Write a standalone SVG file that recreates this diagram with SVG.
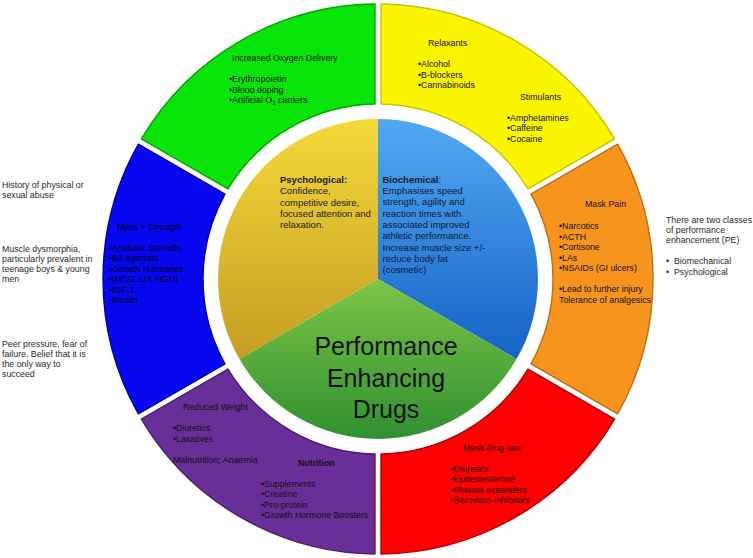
<svg xmlns="http://www.w3.org/2000/svg" width="753" height="558" viewBox="0 0 753 558">
<style>
text{font-family:"Liberation Sans",Arial,sans-serif;}
.r{font-size:8.8px;fill:#111;}
.o{font-size:8.8px;fill:#2a2a2a;}
.p{font-size:9.5px;fill:#1a1a1a;}
.b{font-weight:bold;}
.t{font-size:25px;fill:#111;text-anchor:middle;}
.seg{stroke-width:1.4;stroke-linejoin:round;}
</style>
<defs>
<linearGradient id="gy" x1="0" y1="0" x2="0" y2="1"><stop offset="0" stop-color="#f4d93a"/><stop offset="1" stop-color="#c59c22"/></linearGradient>
<linearGradient id="gb" x1="0" y1="0" x2="0" y2="1"><stop offset="0" stop-color="#52a9f2"/><stop offset="1" stop-color="#1463c6"/></linearGradient>
<linearGradient id="gg" x1="0" y1="0" x2="0" y2="1"><stop offset="0" stop-color="#7ec545"/><stop offset="1" stop-color="#2f9030"/></linearGradient>
</defs>
<rect width="753" height="558" fill="#ffffff"/>

<g id="ring-yellow">
<path class="seg" d="M381,4.02 A275,275 0 0 1 614.64,138.91 L528.03,188.91 A175,175 0 0 0 381,104.03 Z" fill="#fbf500" stroke="#c9c200"/>
<text class="r"><tspan x="428" y="46">Relaxants</tspan><tspan x="418" y="67">•Alcohol</tspan><tspan x="418" y="77.5">•B-blockers</tspan><tspan x="418" y="88">•Cannabinoids</tspan><tspan x="520" y="100">Stimulants</tspan><tspan x="507" y="120.5">•Amphetamines</tspan><tspan x="507" y="131">•Caffeine</tspan><tspan x="507" y="141.5">•Cocaine</tspan></text>
</g>

<g id="ring-orange">
<path class="seg" d="M617.64,144.11 A275,275 0 0 1 617.64,413.89 L531.03,363.89 A175,175 0 0 0 531.03,194.11 Z" fill="#f7941e" stroke="#c06f10"/>
<text class="r"><tspan x="585" y="207">Mask Pain</tspan><tspan x="559" y="229">•Narcotics</tspan><tspan x="559" y="239.5">•ACTH</tspan><tspan x="559" y="250">•Cortisone</tspan><tspan x="559" y="260.5">•LAs</tspan><tspan x="559" y="271">•NSAIDs (GI ulcers)</tspan><tspan x="559" y="292">•Lead to further injury</tspan><tspan x="559" y="302.5">Tolerance of analgesics</tspan></text>
</g>

<g id="ring-red">
<path class="seg" d="M614.64,419.09 A275,275 0 0 1 381,553.98 L381,453.97 A175,175 0 0 0 528.03,369.09 Z" fill="#ff0000" stroke="#b30000"/>
<text class="r" style="fill:#1a0000"><tspan x="463" y="451">Mask drug use</tspan><tspan x="451" y="471.5">•Diuretics</tspan><tspan x="451" y="482">•Epitestesterone</tspan><tspan x="451" y="492.5">•Plasma expanders</tspan><tspan x="451" y="503">•Secretion Inhibitors</tspan></text>
</g>

<g id="ring-purple">
<path class="seg" d="M375,553.98 A275,275 0 0 1 141.36,419.09 L227.97,369.09 A175,175 0 0 0 375,453.97 Z" fill="#6a2e98" stroke="#4b1d6e"/>
<text class="r"><tspan x="183" y="410">Reduced Weight</tspan><tspan x="173" y="431">•Diuretics</tspan><tspan x="173" y="441.5">•Laxatives</tspan><tspan x="173" y="462.5">Malnutrition; Anaemia</tspan><tspan class="b" x="298" y="465.5">Nutrition</tspan><tspan x="261" y="486.5">•Supplements</tspan><tspan x="261" y="497">•Creatine</tspan><tspan x="261" y="507.5">•Pro-protein</tspan><tspan x="261" y="518">•Growth Hormone Boosters</tspan></text>
</g>

<g id="ring-blue">
<path class="seg" d="M138.36,413.89 A275,275 0 0 1 138.36,144.11 L224.97,194.11 A175,175 0 0 0 224.97,363.89 Z" fill="#0808f0" stroke="#0000a8"/>
<text class="r" style="fill:#000010"><tspan x="117" y="230">Mass + Strength</tspan><tspan x="109" y="250.5">•Anabolic Steroids</tspan><tspan x="109" y="261">•B2-agonists</tspan><tspan x="109" y="271.5">•Growth Hormones</tspan><tspan x="109" y="282">•(HCG, LH, HGH)</tspan><tspan x="109" y="292.5">•IGF-1</tspan><tspan x="109" y="303">•Insulin</tspan></text>
</g>

<g id="ring-green">
<path class="seg" d="M141.36,138.91 A275,275 0 0 1 375,4.02 L375,104.03 A175,175 0 0 0 227.97,188.91 Z" fill="#08e408" stroke="#00a800"/>
<text class="r"><tspan x="232" y="61">Increased Oxygen Delivery</tspan><tspan x="229" y="82">•Erythropoietin</tspan><tspan x="229" y="92.5">•Blood doping</tspan><tspan x="229" y="103">•Artificial O<tspan font-size="6" dy="2">2</tspan><tspan dy="-2"> carriers</tspan></tspan></text>
</g>

<g id="pie-psychological">
<path d="M378,279 L239.44,359 A160,160 0 0 1 378,119 Z" fill="url(#gy)"/>
<text class="p"><tspan class="b" x="280" y="182.7">Psychological:</tspan><tspan x="280" y="194.3">Confidence,</tspan><tspan x="280" y="205.7">competitive desire,</tspan><tspan x="280" y="217">focused attention and</tspan><tspan x="280" y="228.4">relaxation.</tspan></text>
</g>

<g id="pie-biochemical">
<path d="M378,279 L378,119 A160,160 0 0 1 516.56,359 Z" fill="url(#gb)"/>
<text class="p" style="fill:#0e1a38"><tspan x="382.5" y="182.7"><tspan class="b">Biochemical</tspan>:</tspan><tspan x="382.5" y="194">Emphasises speed</tspan><tspan x="382.5" y="205.3">strength, agility and</tspan><tspan x="382.5" y="216.6">reaction times with</tspan><tspan x="382.5" y="228">associated improved</tspan><tspan x="382.5" y="239.3">athletic performance.</tspan><tspan x="382.5" y="250.6">Increase muscle size +/-</tspan><tspan x="382.5" y="262">reduce body fat</tspan><tspan x="382.5" y="273.3">(cosmetic)</tspan></text>
</g>

<g id="pie-center">
<path d="M378,279 L516.56,359 A160,160 0 0 1 239.44,359 Z" fill="url(#gg)"/>
<text class="t"><tspan x="386" y="355">Performance</tspan><tspan x="386" y="386.5">Enhancing</tspan><tspan x="386" y="417.5">Drugs</tspan></text>
</g>

<g id="note-left">
<text class="o"><tspan x="2" y="188">History of physical or</tspan><tspan x="2" y="198">sexual abuse</tspan><tspan x="2" y="252">Muscle dysmorphia,</tspan><tspan x="2" y="262">particularly prevalent in</tspan><tspan x="2" y="272">teenage boys &amp; young</tspan><tspan x="2" y="282">men</tspan><tspan x="2" y="346.5">Peer pressure, fear of</tspan><tspan x="2" y="356.5">failure. Belief that it is</tspan><tspan x="2" y="366.5">the only way to</tspan><tspan x="2" y="376.5">succeed</tspan></text>
</g>

<g id="note-right">
<text class="o"><tspan x="666" y="223">There are two classes</tspan><tspan x="666" y="233">of performance</tspan><tspan x="666" y="243">enhancement (PE)</tspan><tspan x="666" y="264">•</tspan><tspan x="674" y="264">Biomechanical</tspan><tspan x="666" y="274.5">•</tspan><tspan x="674" y="274.5">Psychological</tspan></text>
</g>
</svg>
